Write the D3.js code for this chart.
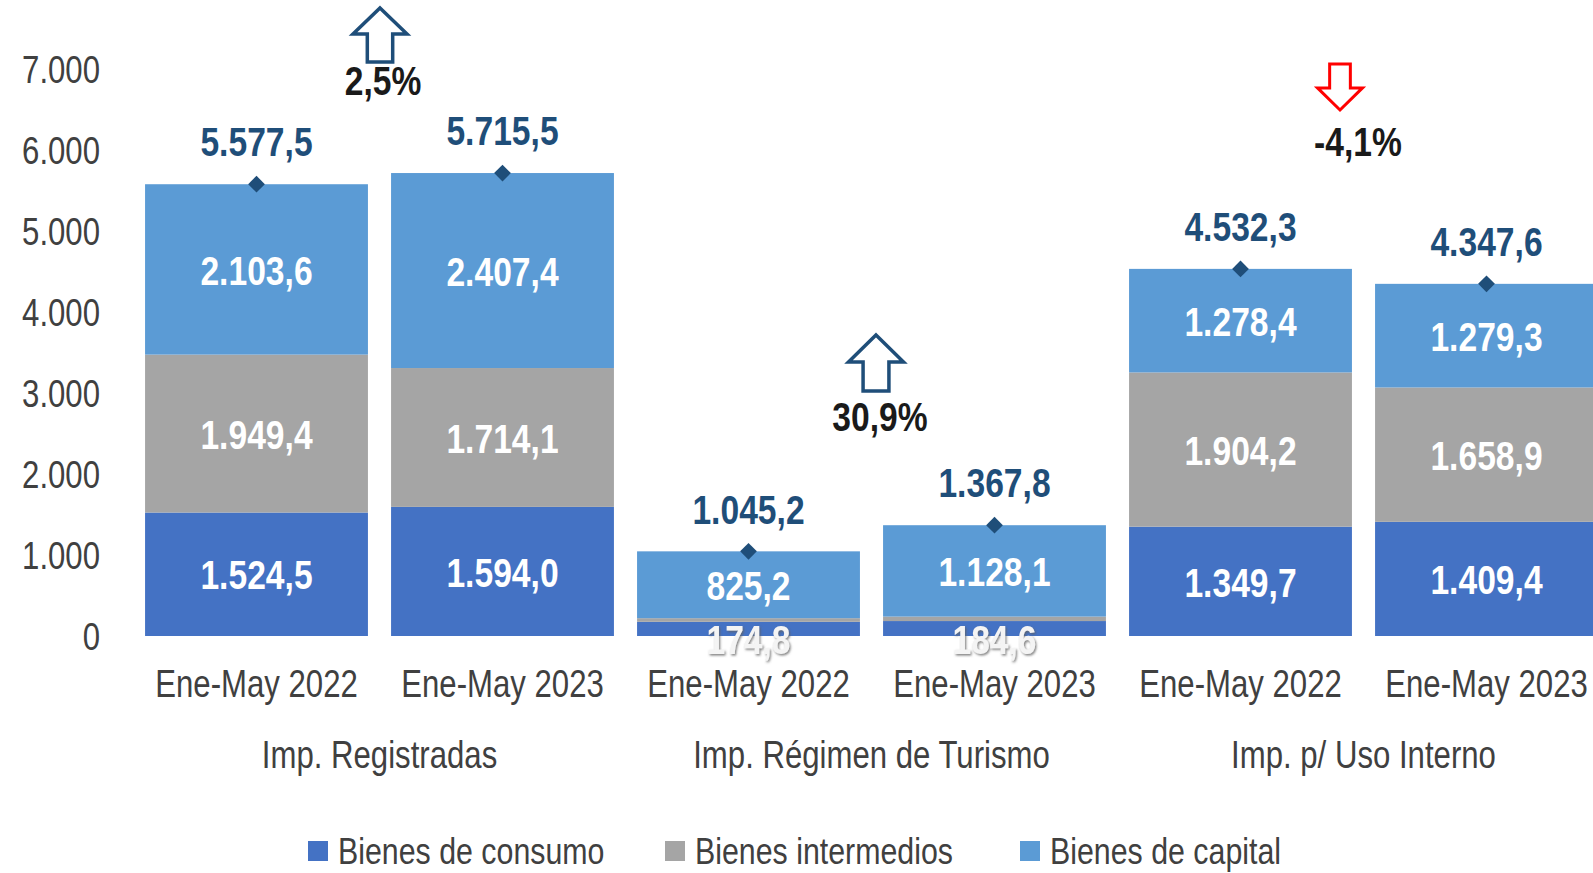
<!DOCTYPE html>
<html>
<head>
<meta charset="utf-8">
<script src="https://cdn.jsdelivr.net/npm/d3@7"></script>
<style>
  html, body { margin: 0; padding: 0; background: #fff; }
  svg { display: block; font-family: "Liberation Sans", Arial, sans-serif; }
</style>
</head>
<body>
<svg id="chart" width="1593" height="873"></svg>
<script>
// ---- Data ----
const groups = ["Imp. Registradas", "Imp. Régimen de Turismo", "Imp. p/ Uso Interno"];
const periods = ["Ene-May 2022", "Ene-May 2023"];
const seriesNames = ["Bienes de consumo", "Bienes intermedios", "Bienes de capital"];
const consumo     = [1524.5, 1594.0, 174.8, 184.6, 1349.7, 1409.4];
const intermedios = [1949.4, 1714.1, 45.2, 55.1, 1904.2, 1658.9];
const capital     = [2103.6, 2407.4, 825.2, 1128.1, 1278.4, 1279.3];
const totals      = [5577.5, 5715.5, 1045.2, 1367.8, 4532.3, 4347.6];
const showIntermediosLabel = [true, true, false, false, true, true];
const changes     = ["2,5%", "30,9%", "-4,1%"];
const changeUp    = [true, true, false];
const yTicks      = [0, 1000, 2000, 3000, 4000, 5000, 6000, 7000];

// ---- Setup ----
const colors = ["#4472C4", "#A5A5A5", "#5B9BD5"];
const SX = 0.82; // horizontal condensing to mimic a narrow face
const svg = d3.select("#chart");
const bars = [];
for (let i = 0; i < 6; i++) bars.push({ id: i, group: groups[Math.floor(i / 2)], period: periods[i % 2] });

const x = d3.scaleBand().domain(d3.range(6)).range([133.5, 1609.5]).paddingInner(0.094).paddingOuter(0.047);
const y = d3.scaleLinear().domain([0, 7000]).range([636, 69]);

const fmt = v => {
  const s = v.toFixed(1);
  let [intPart, dec] = s.split(".");
  intPart = intPart.replace(/\B(?=(\d{3})+(?!\d))/g, ".");
  return intPart + "," + dec;
};
const fmtTick = v => String(v).replace(/\B(?=(\d{3})+(?!\d))/g, ".");

// helper: condensed text at (px,py)
function ctext(sel, px, py, str, opts) {
  const t = sel.append("text")
    .attr("transform", `translate(${px},${py}) scale(${SX},1)`)
    .attr("dominant-baseline", "central")
    .attr("text-anchor", opts.anchor || "middle")
    .attr("font-size", opts.size || 38)
    .attr("font-weight", opts.weight || "normal")
    .attr("fill", opts.fill || "#404040")
    .text(str);
  return t;
}

// ---- Y axis (labels only) ----
const yAxis = d3.axisLeft(y).tickValues(yTicks).tickFormat(fmtTick).tickSize(0).tickPadding(0);
const yg = svg.append("g").attr("transform", "translate(100,0)").call(yAxis);
yg.select(".domain").remove();
yg.selectAll("text").attr("font-size", 38).attr("fill", "#404040")
  .attr("font-family", "inherit").attr("dy", "0.35em").attr("x", 0)
  .attr("transform", `scale(${SX},1)`);

// ---- Stacks ----
const stackData = bars.map((b, i) => ({ id: i, s0: consumo[i], s1: intermedios[i], s2: capital[i] }));
const stack = d3.stack().keys(["s0", "s1", "s2"]);
const layers = stack(stackData);

svg.append("g").selectAll("g").data(layers).join("g")
  .attr("fill", (d, i) => colors[i])
  .selectAll("rect").data(d => d).join("rect")
  .attr("x", d => x(d.data.id))
  .attr("width", x.bandwidth())
  .attr("y", d => y(d[1]))
  .attr("height", d => y(d[0]) - y(d[1]));

// drop-shadow filter for overflowing labels
const defs = svg.append("defs");
const f = defs.append("filter").attr("id", "sh").attr("x", "-20%").attr("y", "-20%").attr("width", "140%").attr("height", "140%");
f.append("feDropShadow").attr("dx", 1.5).attr("dy", 1.5).attr("stdDeviation", 1.2).attr("flood-color", "#606060").attr("flood-opacity", 0.8);

// Segment labels
const segLabels = svg.append("g");
layers.forEach((layer, k) => {
  layer.forEach((d, i) => {
    if (k === 1 && !showIntermediosLabel[i]) return;
    const val = k === 0 ? consumo[i] : k === 1 ? intermedios[i] : capital[i];
    const small = (y(d[0]) - y(d[1])) < 30;
    const cy = (y(d[0]) + y(d[1])) / 2 + (small ? 11 : 1);
    const t = ctext(segLabels, x(i) + x.bandwidth() / 2, cy, fmt(val),
      { size: 41, weight: "bold", fill: small ? "#f4f4f4" : "#ffffff" });
    if (small) t.attr("filter", "url(#sh)");
  });
});

// Totals: diamonds + labels
const tot = svg.append("g");
tot.selectAll("path").data(totals).join("path")
  .attr("d", d3.symbol().type(d3.symbolSquare).size(140))
  .attr("transform", (d, i) => `translate(${x(i) + x.bandwidth() / 2},${y(d)}) rotate(45)`)
  .attr("fill", "#1F4E79");
totals.forEach((d, i) => {
  ctext(tot, x(i) + x.bandwidth() / 2, y(d) - 42, fmt(d), { size: 41, weight: "bold", fill: "#1F4E79" });
});

// ---- X labels ----
const xl = svg.append("g");
bars.forEach(d => ctext(xl, x(d.id) + x.bandwidth() / 2, 684, d.period, { size: 38 }));

const gl = svg.append("g");
groups.forEach((d, g) => ctext(gl, (x(2 * g) + x(2 * g + 1) + x.bandwidth()) / 2, 755, d, { size: 38 }));

// ---- Change arrows ----
const arrowPos = [
  { cx: 380, top: 8, w: 54, h: 54, lx: 383, ly: 81 },
  { cx: 876, top: 335, w: 55, h: 56, lx: 880, ly: 417 },
  { cx: 1340, top: 64, w: 45, h: 46, lx: 1358, ly: 142 }
];
function upArrow(cx, top, w, h) {
  const hh = h * 0.48, sw = w * 0.47;
  return `M${cx},${top} L${cx + w / 2},${top + hh} L${cx + sw / 2},${top + hh} L${cx + sw / 2},${top + h} L${cx - sw / 2},${top + h} L${cx - sw / 2},${top + hh} L${cx - w / 2},${top + hh} Z`;
}
function downArrow(cx, top, w, h) {
  const sh = h * 0.52, sw = w * 0.46, bot = top + h;
  return `M${cx},${bot} L${cx + w / 2},${top + sh} L${cx + sw / 2},${top + sh} L${cx + sw / 2},${top} L${cx - sw / 2},${top} L${cx - sw / 2},${top + sh} L${cx - w / 2},${top + sh} Z`;
}
const arr = svg.append("g");
changes.forEach((c, i) => {
  const p = arrowPos[i];
  arr.append("path")
    .attr("d", changeUp[i] ? upArrow(p.cx, p.top, p.w, p.h) : downArrow(p.cx, p.top, p.w, p.h))
    .attr("fill", "#fff")
    .attr("stroke", changeUp[i] ? "#1F4E79" : "#FF0000")
    .attr("stroke-width", changeUp[i] ? 3.5 : 3)
    .attr("stroke-linejoin", "miter");
  ctext(arr, p.lx, p.ly, c, { size: 41, weight: "bold", fill: "#1a1a1a" });
});

// ---- Legend ----
const legendX = [308, 665, 1020];
const lg = svg.append("g");
seriesNames.forEach((n, i) => {
  lg.append("rect").attr("x", legendX[i]).attr("y", 841).attr("width", 20).attr("height", 20).attr("fill", colors[i]);
  ctext(lg, legendX[i] + 30, 851, n, { size: 37, anchor: "start" });
});
</script>
</body>
</html>
